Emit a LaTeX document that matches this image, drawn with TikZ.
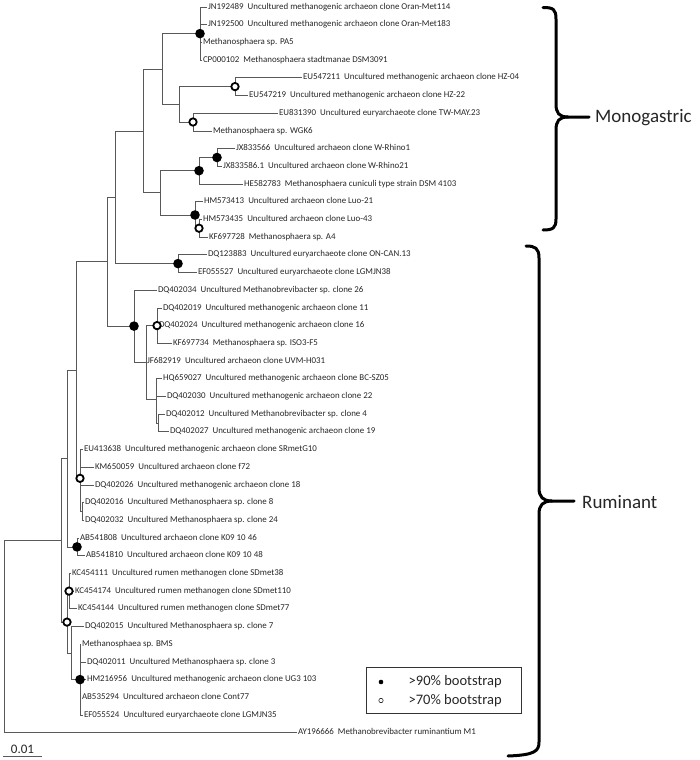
\documentclass[tikz,border=0pt]{standalone}
\usepackage{fontspec}
\setmainfont{Carlito}
\usetikzlibrary{positioning,calc}
\tikzset{
  branch/.style={draw=black!65, line width=0.7pt},
  leaf/.style={anchor=west, inner sep=0.8pt, text height=6pt, text depth=1.8pt,
    font=\fontsize{8.9}{10}\selectfont, text=black!85},
  boot90/.style={circle, fill=black, minimum size=9.6pt, inner sep=0pt},
  boot70/.style={circle, draw=black, fill=white, line width=1.8pt, minimum size=7.4pt, inner sep=0pt},
  groupbrace/.style={draw=black, line width=3pt, line cap=round, line join=round},
  grouplabel/.style={anchor=west, inner sep=0pt, font=\fontsize{19}{23}\selectfont, text=black!85},
  legendtext/.style={anchor=west, inner sep=0pt, font=\fontsize{14.5}{17}\selectfont, text=black!85},
}

\begin{document}
\begin{tikzpicture}[x=1pt, y=-1pt]
    \useasboundingbox (0,0) rectangle (700,760);
    % internal nodes
    \coordinate (nA) at (200,33.6);
    \coordinate (nD) at (235,86.6);
    \coordinate (nE) at (193,122.0);
    \coordinate (nC) at (179,104.3);
    \coordinate (nB) at (162,69.0);
    \coordinate (nJ) at (217,157.5);
    \coordinate (nH) at (199,170.7);
    \coordinate (nK) at (199,228.2);
    \coordinate (nI) at (195,215.0);
    \coordinate (nG) at (160,192.8);
    \coordinate (nF) at (143,130.9);
    \coordinate (nL) at (178,263.6);
    \coordinate (nM) at (115,197.3);
    \coordinate (nP) at (157,325.6);
    \coordinate (nS) at (158,423.0);
    \coordinate (nR) at (156,399.4);
    \coordinate (nQ) at (146,362.0);
    \coordinate (nO) at (134,326.1);
    \coordinate (nN) at (107,261.7);
    \coordinate (nV) at (82,511.5);
    \coordinate (nU) at (80,478.3);
    \coordinate (nT) at (76,370.0);
    \coordinate (nX) at (77,546.9);
    \coordinate (nW) at (67,458.4);
    \coordinate (nAA) at (69,591.1);
    \coordinate (nAB) at (80,679.6);
    \coordinate (nAC) at (71,653.1);
    \coordinate (nZ) at (67,622.1);
    \coordinate (nY) at (61,540.3);
    \coordinate (root) at (4,636.5);
    % leaves
    \node[leaf] (l1) at (207,7.0) {JN192489~ Uncultured methanogenic archaeon clone Oran-Met114};
    \node[leaf] (l2) at (207,24.7) {JN192500~ Uncultured methanogenic archaeon clone Oran-Met183};
    \node[leaf] (l3) at (202,42.4) {Methanosphaera sp. PA5};
    \node[leaf] (l4) at (202,60.1) {CP000102~ Methanosphaera stadtmanae DSM3091};
    \node[leaf] (l5) at (302,77.8) {EU547211~ Uncultured methanogenic archaeon clone HZ-04};
    \node[leaf] (l6) at (248,95.5) {EU547219~ Uncultured methanogenic archaeon clone HZ-22};
    \node[leaf] (l7) at (278,113.2) {EU831390~ Uncultured euryarchaeote clone TW-MAY.23};
    \node[leaf] (l8) at (212,130.9) {Methanosphaera sp. WGK6};
    \node[leaf] (l9) at (235,148.6) {JX833566~ Uncultured archaeon clone W-Rhino1};
    \node[leaf] (l10) at (222,166.3) {JX833586.1~ Uncultured archaeon clone W-Rhino21};
    \node[leaf] (l11) at (243,184.0) {HE582783~ Methanosphaera cuniculi type strain DSM 4103};
    \node[leaf] (l12) at (203,201.7) {HM573413~ Uncultured archaeon clone Luo-21};
    \node[leaf] (l13) at (202,219.4) {HM573435~ Uncultured archaeon clone Luo-43};
    \node[leaf] (l14) at (208,237.1) {KF697728~ Methanosphaera sp. A4};
    \node[leaf] (l15) at (207,254.8) {DQ123883~ Uncultured euryarchaeote clone ON-CAN.13};
    \node[leaf] (l16) at (197,272.5) {EF055527~ Uncultured euryarchaeote clone LGMJN38};
    \node[leaf] (l17) at (157,290.2) {DQ402034~ Uncultured Methanobrevibacter sp. clone 26};
    \node[leaf] (l18) at (162,307.9) {DQ402019~ Uncultured methanogenic archaeon clone 11};
    \node[leaf] (l19) at (158,325.6) {DQ402024~ Uncultured methanogenic archaeon clone 16};
    \node[leaf] (l20) at (172,343.3) {KF697734~ Methanosphaera sp. ISO3-F5};
    \node[leaf] (l21) at (146,361.0) {JF682919~ Uncultured archaeon clone UVM-H031};
    \node[leaf] (l22) at (162,378.7) {HQ659027~ Uncultured methanogenic archaeon clone BC-SZ05};
    \node[leaf] (l23) at (166,396.4) {DQ402030~ Uncultured methanogenic archaeon clone 22};
    \node[leaf] (l24) at (165,414.1) {DQ402012~ Uncultured Methanobrevibacter sp. clone 4};
    \node[leaf] (l25) at (169,431.8) {DQ402027~ Uncultured methanogenic archaeon clone 19};
    \node[leaf] (l26) at (83,449.5) {EU413638~ Uncultured methanogenic archaeon clone SRmetG10};
    \node[leaf] (l27) at (94,467.2) {KM650059~ Uncultured archaeon clone f72};
    \node[leaf] (l28) at (94,484.9) {DQ402026~ Uncultured methanogenic archaeon clone 18};
    \node[leaf] (l29) at (84,502.6) {DQ402016~ Uncultured Methanosphaera sp. clone 8};
    \node[leaf] (l30) at (84,520.3) {DQ402032~ Uncultured Methanosphaera sp. clone 24};
    \node[leaf] (l31) at (79,538.0) {AB541808~ Uncultured archaeon clone K09 10 46};
    \node[leaf] (l32) at (85,555.7) {AB541810~ Uncultured archaeon clone K09 10 48};
    \node[leaf] (l33) at (71,573.4) {KC454111~ Uncultured rumen methanogen clone SDmet38};
    \node[leaf] (l34) at (74,591.1) {KC454174~ Uncultured rumen methanogen clone SDmet110};
    \node[leaf] (l35) at (77,608.8) {KC454144~ Uncultured rumen methanogen clone SDmet77};
    \node[leaf] (l36) at (84,626.5) {DQ402015~ Uncultured Methanosphaera sp. clone 7};
    \node[leaf] (l37) at (81,644.2) {Methanosphaea sp. BMS};
    \node[leaf] (l38) at (86,661.9) {DQ402011~ Uncultured Methanosphaera sp. clone 3};
    \node[leaf] (l39) at (86,679.6) {HM216956~ Uncultured methanogenic archaeon clone UG3 103};
    \node[leaf] (l40) at (81,697.3) {AB535294~ Uncultured archaeon clone Cont77};
    \node[leaf] (l41) at (83,715.0) {EF055524~ Uncultured euryarchaeote clone LGMJN35};
    \node[leaf] (l42) at (297,732.7) {AY196666~ Methanobrevibacter ruminantium M1};
    % branches
    \draw[branch] (nA) |- (l1.west) (nA) |- (l2.west) (nA) |- (l3.west) (nA) |- (l4.west);
    \draw[branch] (nD) |- (l5.west) (nD) |- (l6.west);
    \draw[branch] (nE) |- (l7.west) (nE) |- (l8.west);
    \draw[branch] (nC) |- (nD) (nC) |- (nE);
    \draw[branch] (nB) |- (nA) (nB) |- (nC);
    \draw[branch] (nJ) |- (l9.west) (nJ) |- (l10.west);
    \draw[branch] (nH) |- (nJ) (nH) |- (l11.west);
    \draw[branch] (nK) |- (l13.west) (nK) |- (l14.west);
    \draw[branch] (nI) |- (l12.west) (nI) |- (nK);
    \draw[branch] (nG) |- (nH) (nG) |- (nI);
    \draw[branch] (nF) |- (nB) (nF) |- (nG);
    \draw[branch] (nL) |- (l15.west) (nL) |- (l16.west);
    \draw[branch] (nM) |- (nF) (nM) |- (nL);
    \draw[branch] (nP) |- (l18.west) (nP) |- (l19.west) (nP) |- (l20.west);
    \draw[branch] (nS) |- (l24.west) (nS) |- (l25.west);
    \draw[branch] (nR) |- (l22.west) (nR) |- (l23.west) (nR) |- (nS);
    \draw[branch] (nQ) |- (nP) (nQ) |- (l21.west) (nQ) |- (nR);
    \draw[branch] (nO) |- (l17.west) (nO) |- (nQ);
    \draw[branch] (nN) |- (nM) (nN) |- (nO);
    \draw[branch] (nV) |- (l29.west) (nV) |- (l30.west);
    \draw[branch] (nU) |- (l26.west) (nU) |- (l27.west) (nU) |- (l28.west) (nU) |- (nV);
    \draw[branch] (nT) |- (nN) (nT) |- (nU);
    \draw[branch] (nX) |- (l31.west) (nX) |- (l32.west);
    \draw[branch] (nW) |- (nT) (nW) |- (nX);
    \draw[branch] (nAA) |- (l33.west) (nAA) |- (l34.west) (nAA) |- (l35.west);
    \draw[branch] (nAB) |- (l37.west) (nAB) |- (l38.west) (nAB) |- (l39.west)
        (nAB) |- (l40.west) (nAB) |- (l41.west);
    \draw[branch] (nAC) |- (l36.west) (nAC) |- (nAB);
    \draw[branch] (nZ) |- (nAA) (nZ) |- (nAC);
    \draw[branch] (nY) |- (nW) (nY) |- (nZ);
    \draw[branch] (root) |- (nY) (root) |- (l42.west);
    % bootstrap support
    \node[boot90] (bA) at (nA) {};
    \node[boot90] (bJ) at (nJ) {};
    \node[boot90] (bH) at (nH) {};
    \node[boot90] (bI) at (nI) {};
    \node[boot90] (bL) at (nL) {};
    \node[boot90] (bO) at (nO) {};
    \node[boot90] (bX) at (nX) {};
    \node[boot90] (bAB) at (nAB) {};
    \node[boot70] (bD) at (nD) {};
    \node[boot70] (bE) at (nE) {};
    \node[boot70] (bK) at (nK) {};
    \node[boot70] (bP) at (nP) {};
    \node[boot70] (bU) at (nU) {};
    \node[boot70] (bAA) at (nAA) {};
    \node[boot70] (bZ) at (nZ) {};
    % scale bar
    \coordinate (sb1) at (3,756.5);
    \coordinate (sb2) at (42,756.5);
    \draw[branch] (sb1) -- (sb2);
    \node[leaf, anchor=south, font=\fontsize{13}{15}\selectfont] (sbl) at ($(sb1)!0.5!(sb2)$) {0.01};
    % legend
    \node[draw=black!80, line width=1pt, minimum width=155pt, minimum height=46pt, inner sep=0pt] (leg) at (443.5,690) {};
    \node[circle, fill=black, minimum size=4.6pt, inner sep=0pt] (d90) at (381,682) {};
    \node[circle, draw=black, line width=0.5pt, minimum size=4.4pt, inner sep=0pt] (d70) at (381,700.5) {};
    \node[legendtext, right=25pt of d90] (t90) {>90\% bootstrap};
    \node[legendtext, right=25pt of d70] (t70) {>70\% bootstrap};
    % groups
    \draw[groupbrace] (543,7.5) .. controls (553,7.5) and (556,9) .. (556,19) -- (556,104)
        .. controls (556,113) and (559,117) .. (568,117) -- (589,117);
    \draw[groupbrace] (568,117) .. controls (559,117) and (556,121) .. (556,130) -- (556,219)
        .. controls (556,228) and (553,230) .. (543,230);
    \node[grouplabel] (mono) at (595,118) {Monogastric};
    \draw[groupbrace] (526,246) .. controls (535,246) and (539,248) .. (539,258) -- (539,488)
        .. controls (539,497) and (543,501) .. (552,501) -- (574,501);
    \draw[groupbrace] (552,501) .. controls (543,501) and (539,505) .. (539,514) -- (539,742)
        .. controls (539,751) and (535,755) .. (508,756);
    \node[grouplabel] (rumi) at (582,502) {Ruminant};
\end{tikzpicture}
\end{document}
